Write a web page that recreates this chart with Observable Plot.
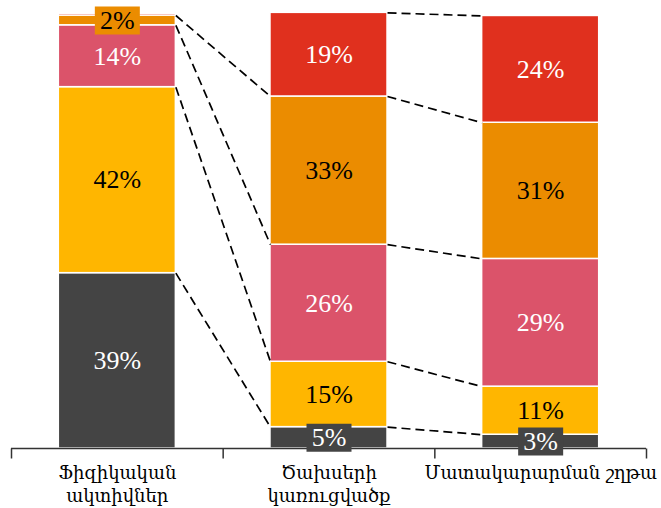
<!DOCTYPE html>
<html><head><meta charset="utf-8">
<script src="https://cdn.jsdelivr.net/npm/d3@7"></script>
<script src="https://cdn.jsdelivr.net/npm/@observablehq/plot@0.6"></script>
<style>body{margin:0;background:#fff}</style>
</head><body><div id="chart"></div>
<script>
// Categories (bars, left to right)
const categories = ["Ֆիզիկական\nակտիվներ", "Ծախսերի\nկառուցվածք", "Մատակարարման շղթա"];
// Segment series, bottom to top
const series = ["A", "B", "C", "D", "E"];
const seriesColors = ["#444444", "#FFB600", "#DB536A", "#EB8C00", "#E0301E"];
const labelColors = ["white", "black", "white", "black", "white"];
// Values (%) per bar, bottom to top
const valuesBar1 = [39.4, 41.8, 13.9, 2.2, 0.4];
const valuesBar2 = [4.8, 14.7, 26.3, 33.3, 18.8];
const valuesBar3 = [3.1, 10.8, 28.7, 30.6, 24.0];
const allValues = [valuesBar1, valuesBar2, valuesBar3];

const barW = 0.553;        // bar width as fraction of category step
const smallThreshold = 6;  // segments below this get a boxed label
const minLabel = 1;        // segments below this get no label

// Build stacked rows
const rows = [];
allValues.forEach((vals, ci) => {
  let acc = 0;
  vals.forEach((v, si) => {
    rows.push({ci, si, series: series[si], value: v, y1: acc, y2: acc + v, mid: acc + v / 2,
      color: seriesColors[si], textColor: labelColors[si]});
    acc += v;
  });
});

// Connectors between neighbouring bars at each segment top
const links = [];
for (let ci = 0; ci < categories.length - 1; ci++) {
  series.forEach((s, si) => {
    const a = rows.find(r => r.ci === ci && r.si === si);
    const b = rows.find(r => r.ci === ci + 1 && r.si === si);
    if (a.value >= minLabel && b.value >= minLabel) {
      links.push({x1: ci + barW / 2, y1: a.y2, x2: ci + 1 - barW / 2, y2: b.y2});
    }
  });
}

const boundaries = d3.range(categories.length + 1).map(i => i - 0.5);
const catRows = categories.map((name, ci) => ({ci, name}));

const boxSymbol = {draw(ctx) { ctx.rect(-22.5, -14, 45, 28); }};
const tickSymbol = {draw(ctx) { ctx.moveTo(0, 0); ctx.lineTo(0, 10); }};

const chart = Plot.plot({
  width: 661, height: 508,
  marginLeft: 11, marginRight: 15, marginTop: 3, marginBottom: 60,
  x: {domain: [-0.5, categories.length - 0.5], axis: null},
  y: {domain: [0, 100], axis: null},
  style: {background: "white"},
  marks: [
    Plot.rect(rows, {x1: d => d.ci - barW / 2, x2: d => d.ci + barW / 2, y1: "y1", y2: "y2",
      fill: "color", stroke: "white", strokeWidth: 1.5}),
    Plot.link(links, {x1: "x1", y1: "y1", x2: "x2", y2: "y2", stroke: "black",
      strokeWidth: 1.7, strokeDasharray: "9,5"}),
    Plot.ruleY([0], {stroke: "#333", strokeWidth: 1.5}),
    Plot.dot(boundaries, {x: d => d, y: d => 0, symbol: tickSymbol, fill: "none", stroke: "#333", strokeWidth: 1.5}),
    Plot.dot(rows.filter(r => r.value >= minLabel && r.value < smallThreshold),
      {x: "ci", y: "mid", symbol: boxSymbol, fill: "color", stroke: "none"}),
    Plot.text(rows.filter(r => r.value >= minLabel),
      {x: "ci", y: "mid", text: d => Math.round(d.value) + "%", fill: "textColor",
       fontSize: 26, fontFamily: "Liberation Serif"}),
    Plot.text(catRows, {x: "ci", frameAnchor: "bottom", text: "name", lineAnchor: "top",
      dy: 13, fontSize: 18, lineHeight: 1.33, fontFamily: "DejaVu Serif", fill: "black"})
  ]
});
document.getElementById("chart").appendChild(chart);
</script>
</body></html>
